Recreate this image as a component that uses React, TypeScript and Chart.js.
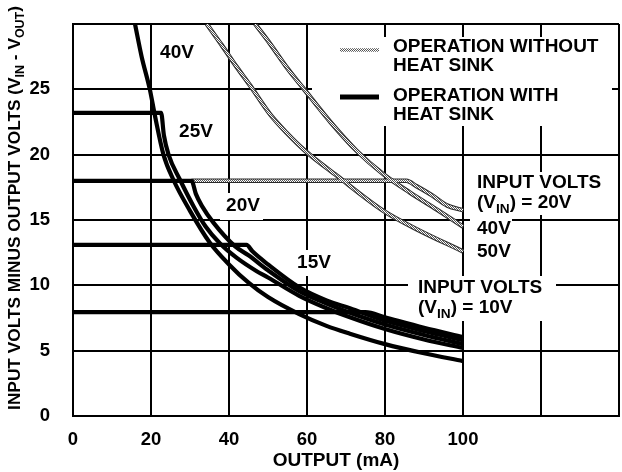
import React, { useEffect, useRef } from 'react';
import { Chart, registerables } from 'chart.js';

Chart.register(...registerables);

const FONT = '"Liberation Sans", Arial, Helvetica, sans-serif';

// Axis ticks
const xTickLabels = ['0', '20', '40', '60', '80', '100'];
const yTickLabels = ['0', '5', '10', '15', '20', '25'];

// Operation with heat sink (solid black)
const hs40X = [15.9, 17.6, 19.7, 21.0, 23.2, 25.7, 30, 35, 40, 45, 50, 58, 65, 71, 80, 90, 100];
const hs40Y = [30, 27.5, 25, 23, 20, 18.1, 15.7, 13.3, 11.6, 10.2, 9.1, 7.8, 6.9, 6.3, 5.5, 4.8, 4.2];
const hs25X = [0, 22.6, 23.3, 24.5, 27.4, 31, 34, 37.7, 42, 47, 50, 58, 65, 71, 80, 90, 100];
const hs25Y = [23.2, 23.2, 21.5, 20.0, 18.1, 16.0, 14.5, 13.2, 12.1, 11.1, 10.6, 9.2, 8.25, 7.55, 6.65, 5.85, 5.2];
const hs20X = [0, 30.4, 31.5, 33, 36, 41.5, 45, 50, 58, 65, 71, 80, 90, 100];
const hs20Y = [18.0, 18.0, 17.0, 16.1, 14.8, 13.0, 12.3, 11.15, 9.55, 8.6, 7.9, 7.0, 6.2, 5.5];
const hs15X = [0, 44.5, 46, 50, 58, 65, 71, 80, 90, 100];
const hs15Y = [13.1, 13.1, 12.6, 11.6, 9.85, 8.85, 8.25, 7.3, 6.5, 5.8];
const hs10X = [0, 75, 80, 90, 100];
const hs10Y = [7.95, 7.95, 7.55, 6.75, 6.05];

// Operation without heat sink (hatched grey)
const nh20X = [30.4, 85.5, 88, 92, 96, 100];
const nh20Y = [18.0, 18.0, 17.6, 16.9, 16.1, 15.75];
const nh40X = [46.7, 50.5, 55, 59, 66, 72.7, 79.6, 86.4, 93.3, 100];
const nh40Y = [30, 28.5, 26.6, 25.1, 22.5, 20.3, 18.5, 17.1, 15.8, 14.5];
const nh50X = [34.3, 38.1, 42, 45.4, 50.5, 55, 59.5, 67.6, 79.6, 88.1, 100];
const nh50Y = [30, 28.4, 26.7, 25.3, 23.1, 21.6, 20.3, 18.4, 15.7, 14.3, 12.6];

const heatSinkSeries = [
  [hs40X, hs40Y],
  [hs25X, hs25Y],
  [hs20X, hs20Y],
  [hs15X, hs15Y],
  [hs10X, hs10Y],
];
const noSinkSeries = [
  [nh20X, nh20Y],
  [nh40X, nh40Y],
  [nh50X, nh50Y],
];

const toPts = (xs: number[], ys: number[]) => xs.map((x, i) => ({ x, y: ys[i] }));

type Part = [string, boolean];

function drawRich(ctx: CanvasRenderingContext2D, x: number, y: number, parts: Part[], size: number, align: 'left' | 'center') {
  const subSize = size * 0.72;
  let total = 0;
  const widths = parts.map(([t, sub]) => {
    ctx.font = `bold ${sub ? subSize : size}px ${FONT}`;
    const w = ctx.measureText(t).width;
    total += w;
    return w;
  });
  let cx = align === 'left' ? x : x - total / 2;
  ctx.textAlign = 'left';
  ctx.textBaseline = 'middle';
  ctx.fillStyle = '#000';
  parts.forEach(([t, sub], i) => {
    ctx.font = `bold ${sub ? subSize : size}px ${FONT}`;
    ctx.fillText(t, cx, sub ? y + size * 0.32 : y);
    cx += widths[i];
  });
}

function makePattern(ctx: CanvasRenderingContext2D) {
  const c = document.createElement('canvas');
  c.width = 2;
  c.height = 2;
  const p = c.getContext('2d')!;
  p.fillStyle = '#ffffff';
  p.fillRect(0, 0, 2, 2);
  p.fillStyle = '#555555';
  p.fillRect(0, 0, 1, 1);
  p.fillRect(1, 1, 1, 1);
  return ctx.createPattern(c, 'repeat')!;
}

export default function App() {
  const ref = useRef<HTMLCanvasElement | null>(null);

  useEffect(() => {
    const canvas = ref.current!;
    const ctx0 = canvas.getContext('2d')!;
    const pattern = makePattern(ctx0);
    const TS = 18.5;
    const AS = 19;

    const boxes = [
      [220, 193, 263, 220],
      [296, 250, 333, 276],
      [312, 37, 612, 126],
      [468, 172, 606, 215],
      [470, 217, 512, 240],
      [470, 242, 512, 262],
      [408, 276, 556, 321],
    ];

    const overlay = {
      id: 'overlay',
      beforeDatasetsDraw(chart: any) {
        const ctx = chart.ctx as CanvasRenderingContext2D;
        ctx.save();
        ctx.fillStyle = '#ffffff';
        boxes.forEach(([x1, y1, x2, y2]) => ctx.fillRect(x1, y1, x2 - x1, y2 - y1));
        ctx.restore();
      },
      afterDraw(chart: any) {
        const ctx = chart.ctx as CanvasRenderingContext2D;
        ctx.save();
        // curve labels
        drawRich(ctx, 177, 53, [['40V', false]], AS, 'center');
        drawRich(ctx, 196, 132, [['25V', false]], AS, 'center');
        drawRich(ctx, 243, 206, [['20V', false]], AS, 'center');
        drawRich(ctx, 314, 263, [['15V', false]], AS, 'center');
        // legend
        ctx.lineCap = 'butt';
        ctx.strokeStyle = pattern;
        ctx.lineWidth = 3.5;
        ctx.beginPath(); ctx.moveTo(340, 50); ctx.lineTo(379, 50); ctx.stroke();
        ctx.strokeStyle = '#000';
        ctx.lineWidth = 5;
        ctx.beginPath(); ctx.moveTo(340, 97); ctx.lineTo(379, 97); ctx.stroke();
        drawRich(ctx, 393, 47, [['OPERATION WITHOUT', false]], AS, 'left');
        drawRich(ctx, 393, 66, [['HEAT SINK', false]], AS, 'left');
        drawRich(ctx, 393, 96, [['OPERATION WITH', false]], AS, 'left');
        drawRich(ctx, 393, 115, [['HEAT SINK', false]], AS, 'left');
        // input volts blocks
        drawRich(ctx, 477, 183, [['INPUT VOLTS', false]], AS, 'left');
        drawRich(ctx, 477, 203, [['(V', false], ['IN', true], [') = 20V', false]], AS, 'left');
        drawRich(ctx, 477, 229, [['40V', false]], AS, 'left');
        drawRich(ctx, 477, 252, [['50V', false]], AS, 'left');
        drawRich(ctx, 418, 288, [['INPUT VOLTS', false]], AS, 'left');
        drawRich(ctx, 418, 308, [['(V', false], ['IN', true], [') = 10V', false]], AS, 'left');
        // axis titles
        drawRich(ctx, 336, 461, [['OUTPUT (mA)', false]], AS, 'center');
        ctx.translate(15, 208);
        ctx.rotate(-Math.PI / 2);
        drawRich(ctx, 0, 0, [
          ['INPUT VOLTS MINUS OUTPUT VOLTS (V', false],
          ['IN', true],
          [' - V', false],
          ['OUT', true],
          [')', false],
        ], 17.3, 'center');
        ctx.restore();
      },
    };

    const datasets: any[] = [];
    heatSinkSeries.forEach(([xs, ys]) => {
      datasets.push({
        data: toPts(xs, ys),
        borderColor: '#000',
        borderWidth: 4.2,
        pointRadius: 0,
        cubicInterpolationMode: 'monotone',
        fill: false,
        order: 0,
      });
    });
    noSinkSeries.forEach(([xs, ys]) => {
      datasets.push({
        data: toPts(xs, ys),
        borderColor: '#2a2a2a',
        borderWidth: 4.5,
        pointRadius: 0,
        cubicInterpolationMode: 'monotone',
        fill: false,
        order: 2,
      });
      datasets.push({
        data: toPts(xs, ys),
        borderColor: pattern,
        borderWidth: 2.5,
        pointRadius: 0,
        cubicInterpolationMode: 'monotone',
        fill: false,
        order: 1,
      });
    });

    const chart = new Chart(canvas, {
      type: 'line',
      data: { datasets },
      options: {
        animation: false,
        responsive: false,
        devicePixelRatio: 1,
        layout: { padding: { left: 0, right: 3, top: 24, bottom: 0 } },
        plugins: { legend: { display: false }, tooltip: { enabled: false } },
        scales: {
          x: {
            type: 'linear',
            min: 0,
            max: 140,
            afterFit: (s: any) => {
              s.height = 56;
              s.paddingLeft = 0;
              s.paddingRight = 0;
            },
            grid: { color: '#000', lineWidth: 2, drawTicks: false },
            border: { color: '#000', width: 2 },
            ticks: {
              stepSize: 20,
              padding: 13,
              color: '#000',
              font: { family: FONT, size: TS, weight: 'bold' },
              callback: (v: any) => {
                const i = Math.round(Number(v) / 20);
                return i < xTickLabels.length ? xTickLabels[i] : '';
              },
              maxRotation: 0,
              autoSkip: false,
            },
          },
          y: {
            type: 'linear',
            min: 0,
            max: 30,
            afterFit: (s: any) => {
              s.width = 73;
              s.paddingTop = 0;
              s.paddingBottom = 0;
            },
            grid: { color: '#000', lineWidth: 2, drawTicks: false },
            border: { color: '#000', width: 2 },
            ticks: {
              stepSize: 5,
              padding: 23,
              color: '#000',
              font: { family: FONT, size: TS, weight: 'bold' },
              callback: (v: any) => {
                const i = Math.round(Number(v) / 5);
                return i < yTickLabels.length ? yTickLabels[i] : '';
              },
              autoSkip: false,
            },
          },
        },
      },
      plugins: [overlay],
    });

    return () => chart.destroy();
  }, []);

  return (
    <div style={{ position: 'absolute', left: 0, top: 0, width: 622, height: 472, background: '#fff' }}>
      <canvas ref={ref} width={622} height={472} style={{ display: 'block' }} />
    </div>
  );
}
